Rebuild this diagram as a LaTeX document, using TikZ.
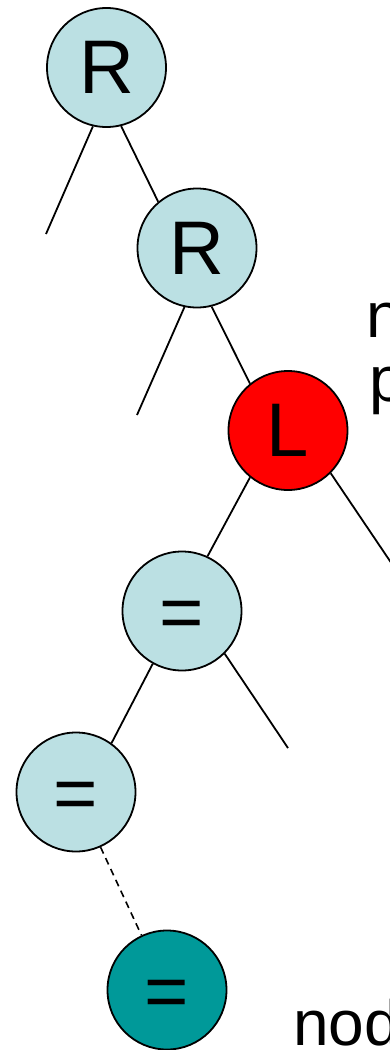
\documentclass[tikz,border=0pt]{standalone}
\usepackage{fontspec}
\setmainfont{Liberation Sans}
\definecolor{nodeblue}{HTML}{BBE0E3}
\definecolor{nodeteal}{HTML}{009999}
\begin{document}
\begin{tikzpicture}[x=1pt,y=-1pt,
  treenode/.style={circle, draw=black, line width=1.8pt, minimum size=119pt,
    inner sep=0pt, fill=nodeblue},
  hot/.style={fill=red},
  target/.style={fill=nodeteal},
  glyph/.style={font=\fontsize{76}{80}\selectfont, inner sep=0pt},
  edge/.style={line width=1.8pt},
  weak/.style={line width=1.6pt, dash pattern=on 7pt off 5pt},
  note/.style={font=\fontsize{64}{70}\selectfont, anchor=base west, inner sep=0pt}]
\useasboundingbox (0,0) rectangle (390,1050);
\clip (0,0) rectangle (390,1050);

% tree nodes
\node[treenode] (r1) at (106.5,67.5) {};
\node[treenode] (r2) at (197,248) {};
\node[treenode,hot] (l) at (288,430.5) {};
\node[treenode] (e1) at (182,611) {};
\node[treenode] (e2) at (76,792) {};
\node[treenode,target] (t) at (167,990) {};

% node labels
\node[glyph] (r1t) at (r1.center) {R};
\node[glyph] (r2t) at (r2.center) {R};
\node[glyph] (lt) at (l.center) {L};
\node[glyph, yshift=-9pt] (e1t) at (e1.center) {=};
\node[glyph, yshift=-9pt] (e2t) at (e2.center) {=};
\node[glyph, yshift=-9pt] (tt) at (t.center) {=};

% loose subtree ends
\coordinate (r1leaf) at (46,234);
\coordinate (r2leaf) at (137,415);
\coordinate (lleaf) at (394,567);
\coordinate (e1leaf) at (288,748);

% edges
\draw[edge] (r1.-103.5) -- (r1leaf);
\draw[edge] (r1.-76.3) -- (r2.130.3);
\draw[edge] (r2.-102.9) -- (r2leaf);
\draw[edge] (r2.-76.5) -- (l.129);
\draw[edge] (l.-129.7) -- (e1.65.2);
\draw[edge] (l.-45.1) -- (lleaf);
\draw[edge] (e1.-119.9) -- (e2.54.5);
\draw[edge] (e1.-45.6) -- (e1leaf);
\draw[weak] (e2.-66) -- (t.115.3);

% side notes
\node[note] (n1) at (366,337) {n};
\node[note] (n2) at (369,401) {p};
\node[note] (n3) at (293,1045) {nod};
\end{tikzpicture}
\end{document}
